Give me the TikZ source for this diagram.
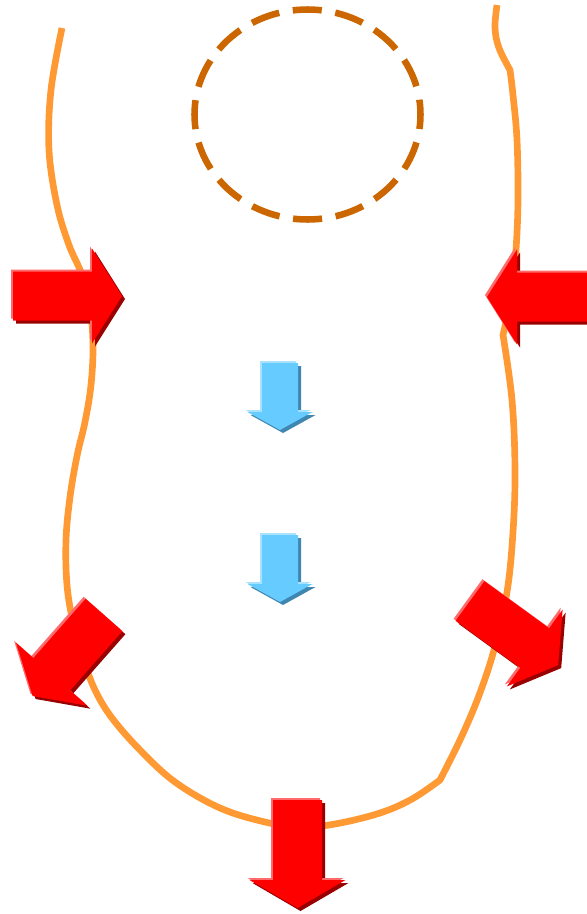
\documentclass[tikz,border=0pt]{standalone}
\usetikzlibrary{calc}

\definecolor{wallorange}{HTML}{FF9933}
\definecolor{ringbrown}{HTML}{CC6600}
\definecolor{redmain}{HTML}{FF0000}
\definecolor{reddark}{HTML}{990000}
\definecolor{redlight}{HTML}{FF6A6A}
\definecolor{bluemain}{HTML}{66CCFF}
\definecolor{bluedark}{HTML}{3F86B0}
\definecolor{bluelight}{HTML}{A8E2FF}

% outline of a block arrow pointing along +x:
% #1 shaft length, #2 shaft half width, #3 head half width, #4 head length
\newcommand{\blockpath}[4]{(0,-#2) -- (#1,-#2) -- (#1,-#3) -- ({#1+#4},0) -- (#1,#3) -- (#1,#2) -- (0,#2) -- cycle}

% bevelled block arrow: #1 colour prefix, (#2,#3) start of shaft, #4 direction,
% #5 shaft length, #6 shaft half width, #7 head half width, #8 head length
\newcommand{\bevelarrow}[8]{%
  \begin{scope}[shift={(#2+3,#3+3)},rotate=#4]
    \fill[#1dark] \blockpath{#5}{#6}{#7}{#8};
  \end{scope}
  \begin{scope}[shift={(#2-2,#3-2)},rotate=#4]
    \fill[#1light] \blockpath{#5}{#6}{#7}{#8};
  \end{scope}
  \begin{scope}[shift={(#2,#3)},rotate=#4]
    \fill[#1main] \blockpath{#5}{#6}{#7}{#8};
  \end{scope}}

\tikzset{
  wall/.style={draw=wallorange, line width=5pt, line join=round},
  ring/.style={draw=ringbrown, line width=4.9pt, dash pattern=on 21.8pt off 10.3pt, dash phase=10.9pt}
}

\begin{document}
\begin{tikzpicture}[x=0.75pt, y=-0.75pt]
  \useasboundingbox (0,0) rectangle (586,914);
  \fill[white] (0,0) rectangle (586,914);

  % dashed ring at the top
  \draw[ring] (307.5,114.5) ellipse [x radius=113, y radius=105];

  % the outline of the body
  \draw[wall]
    plot[smooth, tension=0.6] coordinates {
      (62,28) (51,90) (49,150) (57,205) (69,245) (82,275) (90,308) (93,345)
      (91,385) (85,422) (77,456) (70,497) (66,540) (67,585) (73,622) (83,658)
      (95,690) (112,718) (140,750) (175,782) (220,808) (265,822) (300,827)
      (335,824) (380,813) (412,799) (440,780)}
    -- plot[smooth, tension=0.6] coordinates {
      (440,780) (460,740) (478,698) (494,650) (507,592) (513,532) (515,470)
      (512,400) (503,335)}
    -- plot[smooth, tension=0.6] coordinates {
      (503,335) (512,292) (516,250) (518,200) (517,140) (513,95) (510,70)}
    -- plot[smooth, tension=0.6] coordinates {
      (510,70) (499,48) (495,28) (497,5)};

  % pushing arrows
  \bevelarrow{red}{13}{296}{0}{79}{24.5}{47.5}{30}
  \bevelarrow{red}{600}{297}{180}{83}{24.5}{47.5}{30}
  \bevelarrow{red}{104}{615}{228.6}{79}{24.5}{47.5}{29}
  \bevelarrow{red}{470}{601}{-36}{80}{24.5}{47.5}{29}
  \bevelarrow{red}{297.5}{800}{-90}{80}{24.5}{48}{28}

  % inner flow arrows
  \bevelarrow{blue}{280}{363}{-90}{49}{18}{32.5}{18}
  \bevelarrow{blue}{280}{535}{-90}{49}{18}{32.5}{18}
\end{tikzpicture}
\end{document}
